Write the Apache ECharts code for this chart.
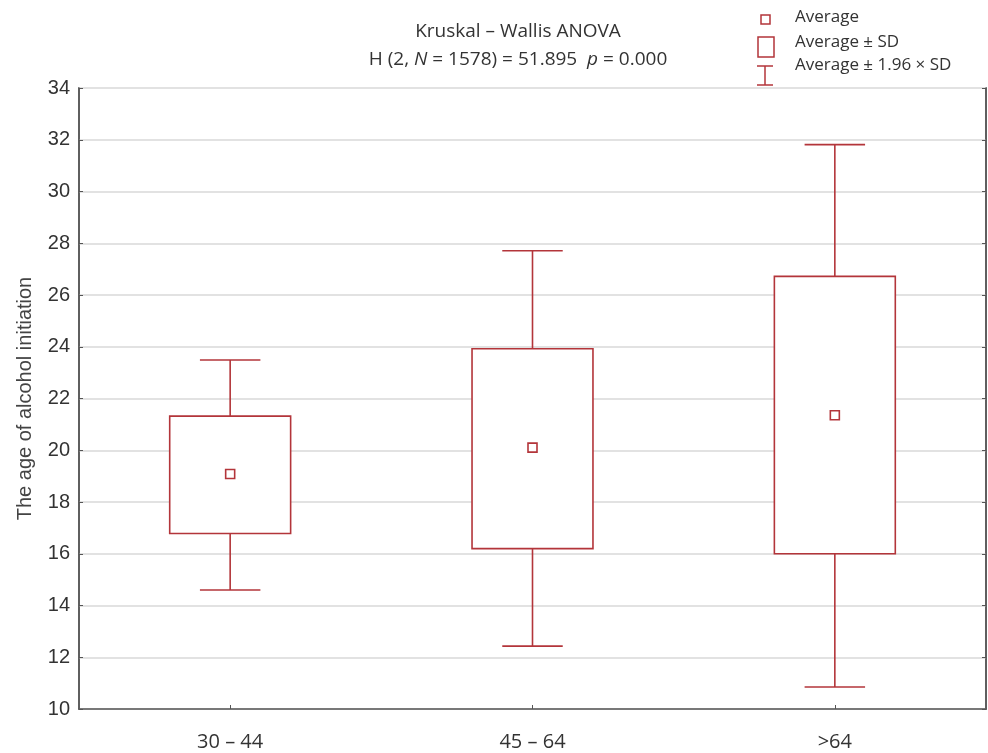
<!DOCTYPE html>
<html>
<head>
<meta charset="utf-8">
<script src="https://cdn.jsdelivr.net/npm/echarts@6/dist/echarts.min.js"></script>
<style>
html,body{margin:0;padding:0;background:#fff;}
#chart{width:988px;height:753px;}
</style>
</head>
<body>
<div id="chart"></div>
<script>
var categories = ['30 – 44', '45 – 64', '>64'];
var means      = [19.08, 20.10, 21.35];
var sdLow      = [16.78, 16.20, 16.00];
var sdHigh     = [21.32, 23.92, 26.72];
var ciLow      = [14.60, 12.43, 10.85];
var ciHigh     = [23.49, 27.71, 31.81];
var yTicks     = {min: 10, max: 34, interval: 2};

var RED = '#b3353a';
var boxData = categories.map(function (c, i) {
  return [i, ciLow[i], sdLow[i], sdHigh[i], ciHigh[i]];
});
var meanData = categories.map(function (c, i) { return [i, means[i]]; });

var chart = echarts.init(document.getElementById('chart'), null, {renderer: 'canvas'});
chart.setOption({
  animation: false,
  backgroundColor: '#fff',
  title: {
    left: 513, top: 13, textAlign: 'center',
    text: 'Kruskal – Wallis ANOVA\n{n|H (2, }{i|N}{n| = 1578) = 51.895  }{i|p}{n| = 0.000}',
    textStyle: {
      fontFamily: 'Open Sans', fontSize: 19, fontWeight: 'normal', color: '#333', lineHeight: 28,
      rich: {
        n: {fontFamily: 'Open Sans', fontSize: 19, color: '#333', lineHeight: 28},
        i: {fontFamily: 'Open Sans', fontSize: 19, color: '#333', fontStyle: 'italic', lineHeight: 28}
      }
    }
  },
  grid: {left: 79, right: 2, top: 88, bottom: 44, show: true, borderColor: '#555', borderWidth: 1.5, backgroundColor: 'transparent'},
  xAxis: [{
    type: 'category', data: categories, position: 'bottom',
    axisLine: {show: true, lineStyle: {color: '#555', width: 1.5}},
    axisTick: {show: true, inside: true, length: 4, alignWithLabel: true, lineStyle: {color: '#555'}},
    axisLabel: {fontFamily: 'Open Sans', fontSize: 20, color: '#333', margin: 23},
    splitLine: {show: false}
  }],
  yAxis: [{
    type: 'value', min: yTicks.min, max: yTicks.max, interval: yTicks.interval,
    name: 'The age of alcohol initiation', nameLocation: 'middle', nameGap: 44, nameRotate: 90,
    nameTextStyle: {fontFamily: 'Liberation Sans', fontSize: 20, color: '#444'},
    axisLine: {show: true, lineStyle: {color: '#555', width: 1.5}},
    axisTick: {show: true, inside: true, length: 4, lineStyle: {color: '#555'}},
    axisLabel: {fontFamily: 'Liberation Sans', fontSize: 20, color: '#333', margin: 9},
    splitLine: {show: true, lineStyle: {color: '#e2e2e2', width: 2}}
  }, {
    type: 'value', min: yTicks.min, max: yTicks.max, interval: yTicks.interval, position: 'right',
    axisLine: {show: true, lineStyle: {color: '#555', width: 1.5}},
    axisTick: {show: true, inside: true, length: 4, lineStyle: {color: '#555'}},
    axisLabel: {show: false}, splitLine: {show: false}
  }],
  series: [{
    type: 'custom',
    data: boxData,
    z: 3,
    renderItem: function (params, api) {
      var x = api.value(0);
      var band = api.size([1, 0])[0];
      var bw = band * 0.4, cw = band * 0.2;
      var pLow = api.coord([x, api.value(1)]);
      var pQ1 = api.coord([x, api.value(2)]);
      var pQ3 = api.coord([x, api.value(3)]);
      var pHigh = api.coord([x, api.value(4)]);
      var cx = pLow[0];
      var ls = {stroke: RED, lineWidth: 1.6};
      return {
        type: 'group',
        children: [
          {type: 'line', shape: {x1: cx, y1: pHigh[1], x2: cx, y2: pQ3[1]}, style: ls},
          {type: 'line', shape: {x1: cx, y1: pQ1[1], x2: cx, y2: pLow[1]}, style: ls},
          {type: 'line', shape: {x1: cx - cw / 2, y1: pHigh[1], x2: cx + cw / 2, y2: pHigh[1]}, style: ls},
          {type: 'line', shape: {x1: cx - cw / 2, y1: pLow[1], x2: cx + cw / 2, y2: pLow[1]}, style: ls},
          {type: 'rect', shape: {x: cx - bw / 2, y: pQ3[1], width: bw, height: pQ1[1] - pQ3[1]},
            style: {fill: '#fff', stroke: RED, lineWidth: 1.6}}
        ]
      };
    }
  }, {
    type: 'scatter',
    data: meanData,
    z: 5,
    symbol: 'rect', symbolSize: 9,
    itemStyle: {color: '#fff', borderColor: RED, borderWidth: 1.6, opacity: 1}
  }],
  graphic: [
    {type: 'rect', shape: {x: 761, y: 15, width: 9, height: 9}, style: {fill: '#fff', stroke: RED, lineWidth: 1.5}, z: 10},
    {type: 'rect', shape: {x: 758, y: 37, width: 16, height: 20}, style: {fill: '#fff', stroke: RED, lineWidth: 1.5}, z: 10},
    {type: 'line', shape: {x1: 765, y1: 66, x2: 765, y2: 85}, style: {stroke: RED, lineWidth: 1.5}, z: 10},
    {type: 'line', shape: {x1: 757, y1: 66, x2: 773, y2: 66}, style: {stroke: RED, lineWidth: 1.5}, z: 10},
    {type: 'line', shape: {x1: 757, y1: 85, x2: 773, y2: 85}, style: {stroke: RED, lineWidth: 1.5}, z: 10},
    {type: 'text', left: 795, top: 9, style: {text: 'Average', font: '17px "Open Sans"', fill: '#333'}, z: 10},
    {type: 'text', left: 795, top: 34, style: {text: 'Average ± SD', font: '17px "Open Sans"', fill: '#333'}, z: 10},
    {type: 'text', left: 795, top: 57, style: {text: 'Average ± 1.96 × SD', font: '17px "Open Sans"', fill: '#333'}, z: 10}
  ]
});
</script>
</body>
</html>
